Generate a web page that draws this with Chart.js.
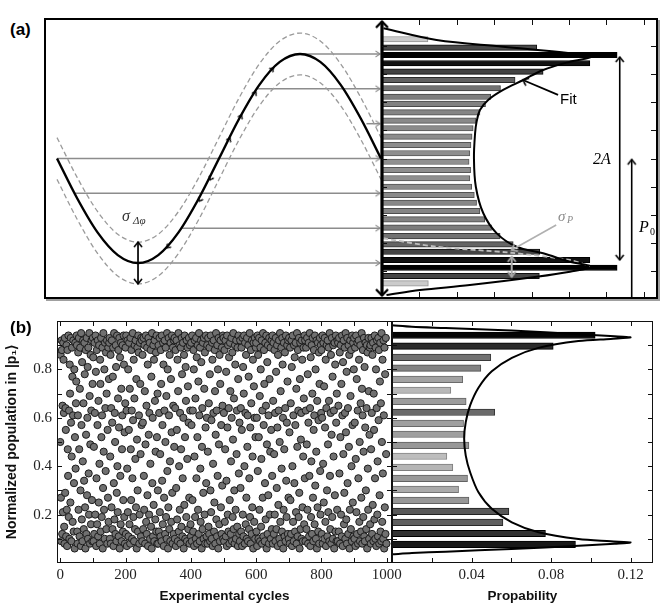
<!DOCTYPE html>
<html>
<head>
<meta charset="utf-8">
<script src="https://cdn.jsdelivr.net/npm/chart.js@4.4.1/dist/chart.umd.min.js"></script>
<style>
  html, body { margin: 0; padding: 0; background: #fff; }
  #page { position: relative; width: 665px; height: 609px; overflow: hidden; font-family: "Liberation Sans", Arial, sans-serif; }
  canvas { position: absolute; }
  .lbl { position: absolute; line-height: 1; white-space: nowrap; }
  .math { font-family: "Liberation Serif", "DejaVu Serif", serif; font-style: italic; }
  #frameA { position: absolute; left: 44px; top: 18px; width: 610px; height: 277px; border: 2px solid #000; box-shadow: 2px 2px 0 #a0a0a0; }
</style>
</head>
<body>
<div id="page">
  <div id="frameA"></div>
  <canvas id="sineChart" width="336" height="277" style="left:46px;top:20px"></canvas>
  <canvas id="histA" width="282" height="277" style="left:374px;top:20px"></canvas>
  <canvas id="scatterB" width="410" height="304" style="left:0;top:305px"></canvas>
  <canvas id="histB" width="285" height="304" style="left:380px;top:305px"></canvas>

  <div class="lbl" style="left:10px;top:21px;font-size:17px;font-weight:bold">(a)</div>
  <div class="lbl" style="left:10px;top:319px;font-size:17px;font-weight:bold">(b)</div>

  <div class="lbl math" style="left:122px;top:208px;font-size:16px;color:#333">σ</div>
  <div class="lbl math" style="left:133px;top:215px;font-size:11px;color:#333">Δφ</div>
  <div class="lbl" style="left:560px;top:91px;font-size:15px">Fit</div>
  <div class="lbl math" style="left:593px;top:151px;font-size:16px">2A</div>
  <div class="lbl math" style="left:639px;top:219px;font-size:16px">P</div>
  <div class="lbl" style="left:650px;top:227px;font-size:10px;font-family:'Liberation Serif',serif">0</div>
  <div class="lbl math" style="left:558px;top:209px;font-size:15px;color:#8a8a8a">σ</div>
  <div class="lbl math" style="left:567px;top:215px;font-size:10px;color:#8a8a8a">P</div>
</div>

<script>
/* ── Panel (a): schematic sine ── */
const phase = [0, 0.0625, 0.125, 0.1875, 0.25, 0.3125, 0.375, 0.4375, 0.5, 0.5625, 0.625, 0.6875, 0.75, 0.8125, 0.875, 0.9375, 1];
const wave = [0, -0.383, -0.707, -0.924, -1, -0.924, -0.707, -0.383, 0, 0.383, 0.707, 0.924, 1, 0.924, 0.707, 0.383, 0];
const envUpper = [0.2, -0.183, -0.507, -0.724, -0.8, -0.724, -0.507, -0.183, 0.2, 0.583, 0.907, 1.124, 1.2, 1.124, 0.907, 0.583, 0.2];
const envLower = [-0.2, -0.583, -0.907, -1.124, -1.2, -1.124, -0.907, -0.583, -0.2, 0.183, 0.507, 0.724, 0.8, 0.724, 0.507, 0.183, -0.2];
const arrowLevels = [1, 0.667, 0.333, 0, -0.333, -0.667, -1];
const arrowStarts = [0.75, 0.614, 0.955, 0, 0.054, 0.386, 0.25];
const arrowEnd = 0.997;
const markerPhase = [0.339, 0.439, 0.472, 0.534, 0.570, 0.614, 0.668];
const markerLevel = [-0.856, -0.41, -0.206, 0.196, 0.416, 0.639, 0.866];

/* ── Panel (a): histogram ── */
const barAPos = [1.141, 1.060, 0.990, 0.911, 0.831, 0.751, 0.672, 0.591, 0.522, 0.442, 0.362, 0.289, 0.209, 0.129, 0.050, -0.031,
  -0.110, -0.189, -0.270, -0.349, -0.423, -0.502, -0.582, -0.662, -0.742, -0.821, -0.892, -0.971, -1.045, -1.124, -1.194];
const barALen = [1.23, 4.14, 6.29, 5.56, 4.31, 3.56, 3.17, 2.91, 2.77, 2.62, 2.51, 2.44, 2.41, 2.38, 2.35, 2.33,
  2.37, 2.35, 2.40, 2.47, 2.53, 2.62, 2.75, 2.93, 3.16, 3.51, 4.22, 5.56, 6.29, 4.21, 1.24];
const fitA = [[0.04, 1.246], [1.46, 1.134], [3.24, 1.070], [5.03, 1.007], [5.61, 0.974], [5.03, 0.926], [4.31, 0.847],
  [3.78, 0.751], [3.24, 0.656], [2.84, 0.560], [2.62, 0.464], [2.53, 0.35], [2.49, 0.241], [2.46, 0.002], [2.51, -0.270],
  [2.71, -0.524], [3.07, -0.716], [3.60, -0.844], [4.31, -0.907], [5.03, -0.988], [5.61, -1.035], [5.03, -1.083],
  [4.14, -1.131], [2.35, -1.211], [1.02, -1.258], [0.12, -1.306]];
const sigmaPCurve = [[0.035, -0.763], [1.46, -0.844], [3.42, -0.901], [5.03, -0.971], [5.56, -1.029]];
const histAXTicks = [1, 2, 3, 4, 5, 6, 7];
const histAYTicks = [-1.072, -0.804, -0.536, -0.268, 0, 0.268, 0.536, 0.804, 1.072];

/* ── Panel (b): measured populations, one per cycle (x100) ── */
const populationRows = [
  "50 86 27 09 92 88 12 65 21 91 84 62 15 08 93 29 64 55 11 90 22 07 88 47 36 94 19 63 10 82 70 25 93 58 09 44 89 77 17 61 92 13 33 80 06 52 91 39 66 75",
  "94 90 13 08 61 87 22 93 47 11 72 89 30 07 95 57 18 83 09 42 92 66 14 34 91 78 23 06 88 53 12 93 28 60 81 10 89 37 20 95 69 08 49 86 16 63 92 26 09 74",
  "93 85 09 48 12 91 62 20 94 79 07 35 88 16 57 92 11 67 25 90 41 08 84 74 13 93 52 19 61 89 06 31 95 46 22 80 10 91 64 38 87 14 70 92 08 55 27 89 17 76",
  "91 93 10 44 86 08 64 23 92 58 14 77 89 07 33 95 18 62 50 12 90 81 09 29 94 40 21 68 88 11 56 93 06 85 36 16 91 72 09 47 61 90 13 26 94 82 19 54 08 66",
  "89 12 94 63 07 39 92 21 80 11 55 91 16 72 08 93 47 26 88 63 10 35 95 59 19 84 09 68 90 14 43 92 23 76 06 51 89 30 13 94 87 61 08 20 91 74 45 11 93 57",
  "92 09 86 58 14 93 36 22 90 71 08 49 94 17 65 12 89 28 82 07 93 53 20 62 91 10 41 88 15 77 06 95 33 60 11 90 24 84 09 92 67 18 46 87 13 94 52 08 70 30",
  "08 90 13 62 93 21 45 11 88 74 09 94 34 57 16 91 82 07 27 63 92 12 50 89 19 69 10 95 38 80 06 23 93 61 14 86 42 09 91 76 17 54 94 29 08 89 65 12 92 48",
  "93 10 64 88 07 31 92 55 18 84 09 71 95 13 40 90 22 62 08 89 47 15 93 78 11 35 91 60 06 86 24 94 52 10 81 67 19 92 09 43 89 73 14 58 93 27 08 90 63 16",
  "11 91 57 09 94 26 63 13 88 80 07 44 92 19 68 10 93 35 85 08 52 90 22 75 12 95 61 09 89 39 17 92 83 06 48 64 14 91 29 10 93 72 20 87 08 56 94 33 11 60",
  "90 08 46 93 15 66 12 89 78 09 30 94 21 59 10 91 84 07 41 62 92 13 25 88 71 08 53 95 18 63 11 90 36 80 06 93 49 16 86 09 74 92 23 57 12 89 32 65 94 10",
  "93 62 09 88 17 47 92 11 79 34 07 94 56 20 90 13 64 85 08 26 91 71 12 42 93 60 09 87 19 51 95 14 68 30 08 90 82 22 10 92 45 63 15 89 07 76 94 37 12 58",
  "09 92 31 64 13 89 55 07 93 20 81 11 70 94 40 08 91 62 16 86 27 10 93 48 61 09 90 77 14 35 95 19 56 08 88 66 12 92 23 44 84 06 91 73 17 60 93 10 52 89",
  "91 13 60 07 94 38 86 10 52 93 22 69 09 89 80 15 43 92 08 63 27 95 11 57 88 74 09 33 91 18 65 94 06 49 83 12 90 28 61 08 93 76 20 46 89 10 55 92 14 36",
  "94 08 67 91 12 45 88 20 62 09 93 79 14 31 90 56 07 86 24 63 92 10 50 95 17 71 08 89 39 13 93 82 60 06 22 91 47 11 87 64 09 94 34 19 58 90 75 12 92 27",
  "10 93 54 08 89 26 66 12 92 81 07 40 94 17 61 09 90 33 85 13 57 91 21 72 08 95 48 11 88 63 19 93 29 06 76 91 14 51 62 10 92 84 23 09 44 89 68 16 94 35",
  "92 09 63 89 14 49 93 22 78 08 58 91 11 36 95 64 07 85 19 42 90 12 70 93 27 09 55 88 61 16 94 32 80 10 46 92 06 67 23 91 13 59 87 08 74 93 38 20 90 62",
  "88 12 60 94 08 41 91 25 73 10 93 56 17 84 07 64 90 30 11 92 49 21 89 67 09 95 36 14 62 86 08 53 93 19 77 10 90 44 63 06 91 28 82 13 94 58 09 70 22 92",
  "09 91 65 13 93 37 87 08 52 90 20 74 11 94 61 07 83 45 92 16 29 89 62 10 95 54 18 79 08 93 33 64 12 90 48 86 06 22 92 69 14 88 40 09 94 57 25 91 11 80",
  "93 10 58 89 07 43 94 21 76 12 91 63 08 35 92 84 17 50 09 90 66 13 27 95 72 08 61 88 19 46 93 11 81 09 56 91 30 14 64 90 06 87 39 22 93 71 10 53 89 16",
  "90 08 47 93 62 12 86 24 91 09 70 55 18 94 35 10 89 80 07 64 92 20 42 11 93 59 88 08 28 75 91 13 66 09 95 50 17 84 37 10 92 61 06 89 23 78 12 93 45 08"
];
const population = populationRows.join(" ").split(" ").map(v => Number(v) / 100);

/* ── Panel (b): histogram of populations + fit ── */
const barBPos = [0.941, 0.896, 0.850, 0.805, 0.759, 0.714, 0.668, 0.623, 0.577, 0.532, 0.486, 0.441, 0.395, 0.350, 0.304, 0.259, 0.213, 0.168, 0.122, 0.077];
const barBProb = [0.1022, 0.0811, 0.0497, 0.0447, 0.0356, 0.0296, 0.0373, 0.0517, 0.0360, 0.0363, 0.0387, 0.0276, 0.0306, 0.0380, 0.0335, 0.0387, 0.0588, 0.0558, 0.0772, 0.0923];
const fitB = [[0.000, 0.982], [0.010, 0.976], [0.027, 0.971], [0.060, 0.961], [0.094, 0.945], [0.112, 0.937], [0.120, 0.932],
  [0.110, 0.926], [0.0938, 0.917], [0.0737, 0.889], [0.0603, 0.848], [0.0502, 0.792], [0.0435, 0.724], [0.0393, 0.651],
  [0.0371, 0.582], [0.0363, 0.513], [0.0371, 0.444], [0.0393, 0.375], [0.0435, 0.292], [0.0502, 0.224], [0.0603, 0.168],
  [0.0737, 0.127], [0.0938, 0.099], [0.110, 0.090], [0.120, 0.085], [0.112, 0.080], [0.094, 0.071], [0.060, 0.058],
  [0.027, 0.047], [0.010, 0.041], [0.000, 0.036]];
const scatterXTicks = [0, 100, 200, 300, 400, 500, 600, 700, 800, 900, 1000];
const scatterXLabels = [0, 200, 400, 600, 800, 1000];
const popTicks = [0.1, 0.2, 0.3, 0.4, 0.5, 0.6, 0.7, 0.8, 0.9];
const popLabels = [0.2, 0.4, 0.6, 0.8];
const probTicks = [0.02, 0.04, 0.06, 0.08, 0.10, 0.12];
const probLabels = [0.04, 0.08, 0.12];

/* ── Helpers ── */
Chart.defaults.font.family = '"Liberation Sans", Arial, sans-serif';
Chart.defaults.color = "#222";

function head(color, open, w, h, lw) {
  const s = Math.ceil(h + lw + 2);
  const c = document.createElement("canvas");
  c.width = c.height = 2 * s;
  const g = c.getContext("2d");
  g.strokeStyle = color;
  g.fillStyle = color;
  g.lineWidth = lw;
  g.beginPath();
  g.moveTo(s - w, s + h);
  g.lineTo(s, s);
  g.lineTo(s + w, s + h);
  if (open) g.stroke();
  else { g.closePath(); g.fill(); }
  return c;
}
const grayHead = head("#8c8c8c", true, 3, 4.5, 1.2);
const axisHead = head("#000", true, 6, 6, 2.4);
const blackHead = head("#000", true, 4, 5, 1.6);
const tinyHead = head("#000", true, 2.5, 3.5, 1.3);
const lightHead = head("#a8a8a8", true, 4, 5, 2);

function shade(v, table) {
  if (v <= table[0][0]) return table[0][1];
  for (let i = 1; i < table.length; i++) {
    if (v <= table[i][0]) {
      const [a, ga] = table[i - 1], [b, gb] = table[i];
      return ga + (gb - ga) * (v - a) / (b - a);
    }
  }
  return table[table.length - 1][1];
}
const gray = (g) => { g = Math.max(0, Math.round(g)); return `rgb(${g},${g},${g})`; };
const shadeA = [[1.2, 205], [2.4, 140], [2.9, 125], [3.5, 100], [4.2, 70], [5.5, 18], [6.3, 0]];
const shadeB = [[0.027, 190], [0.031, 180], [0.036, 160], [0.045, 130], [0.052, 105], [0.058, 90], [0.077, 50], [0.092, 25], [0.102, 5]];
const fixedTicks = (list) => (s) => { s.ticks = list.map(value => ({ value })); };

/* ── Frame & inward ticks plugin ── */
const frameTicks = {
  id: "frameTicks",
  afterDatasetsDraw(chart, args, o) {
    if (!o || !o.on) return;
    const { ctx, chartArea: a } = chart;
    const x = chart.scales.x, y = chart.scales.y;
    const len = o.len || 5;
    ctx.save();
    ctx.strokeStyle = o.color || "#111";
    ctx.lineWidth = o.width || 1;
    if (o.box) ctx.strokeRect(a.left + 0.5, a.top + 0.5, a.width - 1, a.height - 1);
    ctx.beginPath();
    (o.xTicks || []).forEach(v => {
      const px = Math.round(x.getPixelForValue(v)) + 0.5;
      if (o.sides.includes("t")) { ctx.moveTo(px, a.top); ctx.lineTo(px, a.top + len); }
      if (o.sides.includes("b")) { ctx.moveTo(px, a.bottom); ctx.lineTo(px, a.bottom - len); }
    });
    (o.yTicks || []).forEach(v => {
      const py = Math.round(y.getPixelForValue(v)) + 0.5;
      if (o.sides.includes("l")) { ctx.moveTo(a.left, py); ctx.lineTo(a.left + len, py); }
      if (o.sides.includes("r")) { ctx.moveTo(a.right, py); ctx.lineTo(a.right - len, py); }
    });
    ctx.stroke();
    ctx.restore();
  }
};
Chart.register(frameTicks);

const quiet = { legend: { display: false }, tooltip: { enabled: false } };

/* ── Chart (a) left: sine ── */
new Chart(document.getElementById("sineChart"), {
  type: "line",
  data: {
    datasets: [
      ...arrowLevels.map((lv, i) => ({
        data: [{ x: arrowStarts[i], y: lv }, { x: arrowEnd, y: lv }],
        borderColor: "#8c8c8c", borderWidth: 1.5, order: 5,
        pointRadius: [0, 4], pointStyle: grayHead, pointRotation: 90
      })),
      { data: phase.map((p, i) => ({ x: p, y: envUpper[i] })), borderColor: "#9a9a9a", borderWidth: 1.3,
        borderDash: [5, 3], pointRadius: 0, cubicInterpolationMode: "monotone", order: 4 },
      { data: phase.map((p, i) => ({ x: p, y: envLower[i] })), borderColor: "#9a9a9a", borderWidth: 1.3,
        borderDash: [5, 3], pointRadius: 0, cubicInterpolationMode: "monotone", order: 4 },
      { data: phase.map((p, i) => ({ x: p, y: wave[i] })), borderColor: "#000", borderWidth: 2.4,
        pointRadius: 0, cubicInterpolationMode: "monotone", order: 1 },
      { data: markerPhase.map((p, i) => ({ x: p, y: markerLevel[i] })), showLine: false, pointRadius: 3,
        pointStyle: tinyHead, pointRotation: [223, 208, 207, 27, 29, 33, 45], order: 0 },
      { data: [{ x: 0.25, y: -0.8 }, { x: 0.25, y: -1.2 }], borderColor: "#000", borderWidth: 1.7,
        pointRadius: 4, pointStyle: blackHead, pointRotation: [0, 180], order: 0 }
    ]
  },
  options: {
    responsive: false, animation: false, events: [],
    layout: { autoPadding: false, padding: 0 },
    plugins: quiet,
    scales: {
      x: { type: "linear", display: false, offset: false, min: -0.034, max: 1.003 },
      y: { type: "linear", display: false, offset: false, min: -1.325, max: 1.325 }
    }
  }
});

/* ── Chart (a) right: histogram ── */
new Chart(document.getElementById("histA"), {
  type: "bar",
  data: {
    datasets: [
      { type: "bar", data: barAPos.map((p, i) => ({ x: barALen[i], y: p })), order: 6,
        backgroundColor: barALen.map(v => gray(shade(v, shadeA))),
        borderColor: barALen.map(v => gray(shade(v, shadeA) - 55)),
        borderWidth: 1, barThickness: 5.5 },
      { type: "line", data: sigmaPCurve.map(([x, y]) => ({ x, y })), borderColor: "#bdbdbd", borderWidth: 1.8,
        borderDash: [5, 3], pointRadius: 0, tension: 0.3, order: 4 },
      { type: "line", data: fitA.map(([x, y]) => ({ x, y })), borderColor: "#000", borderWidth: 2,
        pointRadius: 0, tension: 0.35, order: 3 },
      { type: "line", data: [{ x: 4.71, y: 0.608 }, { x: 3.77, y: 0.751 }], borderColor: "#000", borderWidth: 1.8,
        pointRadius: [0, 4], pointStyle: blackHead, pointRotation: 294, order: 1 },
      { type: "line", data: [{ x: 4.66, y: -0.636 }, { x: 3.47, y: -0.876 }], borderColor: "#b0b0b0", borderWidth: 1.6,
        pointRadius: [0, 4], pointStyle: lightHead, pointRotation: 241, order: 1 },
      { type: "line", data: [{ x: 3.47, y: -0.94 }, { x: 3.47, y: -1.131 }], borderColor: "#a8a8a8", borderWidth: 2,
        pointRadius: 4, pointStyle: lightHead, pointRotation: [0, 180], order: 1 },
      { type: "line", data: [{ x: 6.36, y: 0.971 }, { x: 6.36, y: -0.971 }], borderColor: "#000", borderWidth: 1.6,
        pointRadius: 4, pointStyle: blackHead, pointRotation: [0, 180], order: 1 },
      { type: "line", data: [{ x: 6.68, y: -1.325 }, { x: 6.68, y: -0.01 }], borderColor: "#000", borderWidth: 1.6,
        pointRadius: [0, 4], pointStyle: blackHead, pointRotation: 0, order: 1, clip: 6 },
      { type: "line", data: [{ x: 0, y: 1.31 }, { x: 0, y: -1.31 }], borderColor: "#000", borderWidth: 3.2,
        pointRadius: 4, pointStyle: axisHead, pointRotation: [0, 180], order: 0, clip: 10 }
    ]
  },
  options: {
    indexAxis: "y",
    responsive: false, animation: false, events: [],
    layout: { autoPadding: false, padding: { left: 8, right: 0, top: 0, bottom: 0 } },
    plugins: {
      ...quiet,
      frameTicks: { on: true, len: 5, color: "#111", xTicks: histAXTicks, yTicks: histAYTicks, sides: "tblr" }
    },
    scales: {
      x: { type: "linear", display: false, offset: false, min: 0, max: 7.33 },
      y: { type: "linear", display: false, offset: false, min: -1.325, max: 1.325 }
    }
  }
});

/* ── Chart (b) left: scatter ── */
const tickFont = { family: '"Liberation Serif", "DejaVu Serif", serif', size: 15 };
const titleFont = { family: '"Liberation Sans", Arial, sans-serif', size: 13.5, weight: "bold" };

new Chart(document.getElementById("scatterB"), {
  type: "scatter",
  data: {
    datasets: [{
      data: population.map((v, i) => ({ x: i, y: v })),
      pointRadius: 3.6, pointBorderWidth: 1,
      backgroundColor: "#707070", borderColor: "#1c1c1c"
    }]
  },
  options: {
    responsive: false, animation: false, events: [],
    layout: { autoPadding: false, padding: { top: 16, right: 18, left: 0, bottom: 0 } },
    plugins: {
      ...quiet,
      frameTicks: { on: true, box: true, len: 5, color: "#111", xTicks: scatterXTicks, yTicks: popTicks, sides: "tblr" }
    },
    scales: {
      x: {
        type: "linear", min: -10, max: 1016, offset: false,
        grid: { display: false, drawTicks: false }, border: { display: false },
        afterBuildTicks: fixedTicks(scatterXLabels),
        ticks: { autoSkip: false, maxRotation: 0, padding: 3, font: tickFont, color: "#222",
          callback: v => String(v) },
        title: { display: true, text: "Experimental cycles", font: titleFont, color: "#111", padding: { top: 0, bottom: 5 } },
        afterFit: s => { s.height = 46; }
      },
      y: {
        type: "linear", min: 0, max: 1, offset: false,
        grid: { display: false, drawTicks: false }, border: { display: false },
        afterBuildTicks: fixedTicks(popLabels),
        ticks: { autoSkip: false, padding: 5, font: tickFont, color: "#222",
          callback: v => Number(v).toFixed(1) },
        title: { display: true, text: "Normalized population in |p\u2081\u27E9", font: { ...titleFont, size: 14 }, color: "#111", padding: { top: 4, bottom: 0 } },
        afterFit: s => { s.width = 57; }
      }
    }
  }
});

/* ── Chart (b) right: histogram + fit ── */
new Chart(document.getElementById("histB"), {
  type: "bar",
  data: {
    datasets: [
      { type: "bar", data: barBPos.map((p, i) => ({ x: barBProb[i], y: p })), order: 2,
        backgroundColor: barBProb.map(v => gray(shade(v, shadeB))),
        borderColor: barBProb.map(v => gray(shade(v, shadeB) - 55)),
        borderWidth: 1, barThickness: 6.5 },
      { type: "line", data: fitB.map(([x, y]) => ({ x, y })), borderColor: "#000", borderWidth: 2,
        pointRadius: 0, tension: 0.3, order: 1 }
    ]
  },
  options: {
    indexAxis: "y",
    responsive: false, animation: false, events: [],
    layout: { autoPadding: false, padding: { top: 16, left: 12, right: 12, bottom: 0 } },
    plugins: {
      ...quiet,
      frameTicks: { on: true, box: true, len: 5, color: "#111", xTicks: probTicks, yTicks: popTicks, sides: "tblr" }
    },
    scales: {
      x: {
        type: "linear", min: 0, max: 0.1313, offset: false,
        grid: { display: false, drawTicks: false }, border: { display: false },
        afterBuildTicks: fixedTicks(probLabels),
        ticks: { autoSkip: false, maxRotation: 0, padding: 3, font: tickFont, color: "#222",
          callback: v => Number(v).toFixed(2) },
        title: { display: true, text: "Propability", font: titleFont, color: "#111", padding: { top: 0, bottom: 5 } },
        afterFit: s => { s.height = 46; }
      },
      y: { type: "linear", display: false, offset: false, min: 0, max: 1 }
    }
  }
});
</script>
</body>
</html>
